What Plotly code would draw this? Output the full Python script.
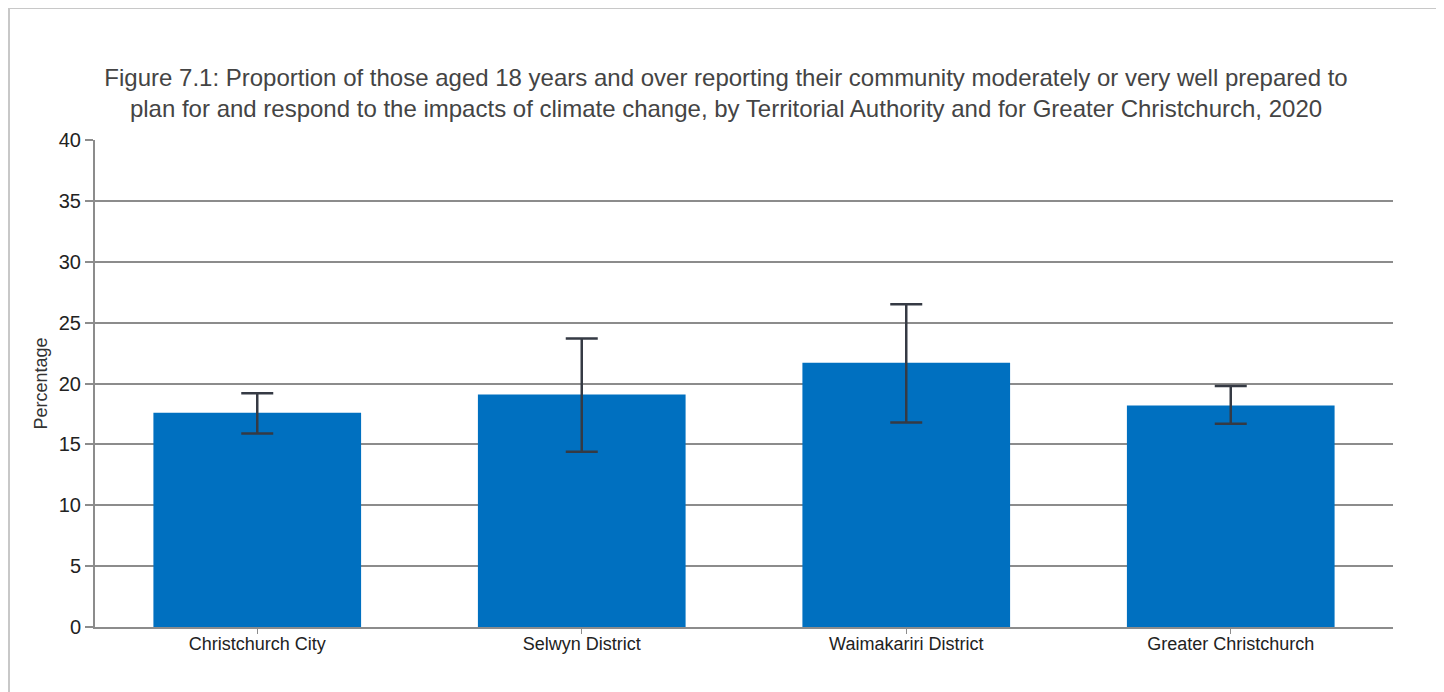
import plotly.graph_objects as go

categories = ["Christchurch City", "Selwyn District", "Waimakariri District", "Greater Christchurch"]
values = [17.6, 19.1, 21.7, 18.2]
upper = [19.2, 23.7, 26.5, 19.8]
lower = [15.9, 14.4, 16.8, 16.7]
y_ticks = [0, 5, 10, 15, 20, 25, 30, 35, 40]

err_plus = [u - v for u, v in zip(upper, values)]
err_minus = [v - l for v, l in zip(values, lower)]

FONT = "Liberation Sans, Arial, sans-serif"

# page body adds an 8px offset, so the figure is sized to fit the window
W, H = 1436, 684
L, R, T, B = 87, 51, 132, 65
PW = W - L - R
PH = H - T - B

fig = go.Figure()
fig.add_trace(go.Bar(
    x=categories,
    y=values,
    marker=dict(color="#0070C0", line=dict(width=0)),
    error_y=dict(
        type="data",
        symmetric=False,
        array=err_plus,
        arrayminus=err_minus,
        color="#353a44",
        thickness=2.5,
        width=16,
    ),
    hoverinfo="x+y",
))

fig.update_layout(
    width=W,
    height=H,
    margin=dict(l=L, r=R, t=T, b=B, autoexpand=False),
    paper_bgcolor="white",
    plot_bgcolor="white",
    bargap=0.36,
    showlegend=False,
    font=dict(family=FONT, color="#222222"),
    title=dict(
        text="Figure 7.1: Proportion of those aged 18 years and over reporting their community moderately or very well prepared to<br>plan for and respond to the impacts of climate change, by Territorial Authority and for Greater Christchurch, 2020",
        x=0.5,
        xanchor="center",
        xref="container",
        y=1 - 78 / H,
        yanchor="middle",
        font=dict(family=FONT, size=24, color="#444444"),
    ),
    shapes=[dict(
        type="rect", xref="paper", yref="paper",
        x0=(1 - L) / PW, x1=(1429 - L) / PW,
        y0=-0.3, y1=(T - 0) / PH + 1,
        line=dict(color="#c8c8c8", width=2),
        fillcolor="rgba(0,0,0,0)",
        layer="below",
    )],
)

fig.update_xaxes(
    showgrid=False,
    showline=True,
    linecolor="#8c8c8c",
    linewidth=2,
    ticks="outside",
    ticklen=5,
    tickwidth=1,
    tickcolor="#8c8c8c",
    ticklabelstandoff=-6,
    tickfont=dict(family=FONT, size=18, color="#222222"),
)

fig.update_yaxes(
    range=[0, 40],
    tickvals=y_ticks,
    showgrid=True,
    gridcolor="#8c8c8c",
    gridwidth=1.5,
    showline=True,
    linecolor="#8c8c8c",
    linewidth=2,
    zeroline=False,
    ticks="outside",
    ticklen=8,
    tickwidth=1.5,
    tickcolor="#8c8c8c",
    tickfont=dict(family=FONT, size=20, color="#222222"),
    title=dict(text="Percentage", font=dict(family=FONT, size=18, color="#333333"), standoff=6),
)

fig.write_html("out.html")
